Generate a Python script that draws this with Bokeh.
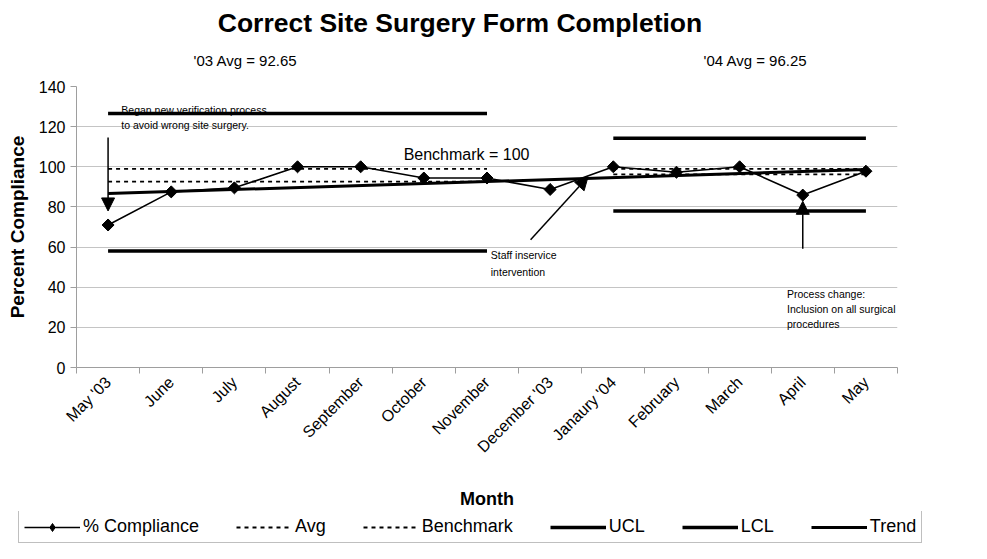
import math
from bokeh.plotting import figure
from bokeh.layouts import column
from bokeh.models import (Plot, Range1d, FixedTicker, Label, Arrow, NormalHead,
                          Legend, LegendItem)
from bokeh.embed import file_html
from bokeh.resources import INLINE

# ---------------- data ----------------
months = ["May '03", "June", "July", "August", "September", "October",
          "November", "December '03", "Janaury '04", "February", "March",
          "April", "May"]
compliance = [71, 87.5, 89.5, 100, 100, 94.4, 94.4, 88.7, 100, 97.3, 100, 85.9, 97.8]

span_03 = [0, 6]      # May '03 .. November (index range of the '03 control lines)
span_04 = [8, 12]     # Janaury '04 .. May
avg_03 = [92.65, 92.65]
avg_04 = [96.25, 96.25]
bench_03 = [99, 99]
bench_04 = [99, 99]
ucl_03 = [126.5, 126.5]
lcl_03 = [58.0, 58.0]
ucl_04 = [114.2, 114.2]
lcl_04 = [78.0, 78.0]
trend_x = [0, 12]
trend_y = [86.7, 98.6]
y_ticks = [0, 20, 40, 60, 80, 100, 120, 140]
legend_labels = ["% Compliance", "Avg", "Benchmark", "UCL", "LCL", "Trend"]

FONT = "Liberation Sans"
W = 971
HEAD_H = 78
MAIN_H = 433
LEG_H = 543 - HEAD_H - MAIN_H
FRAME_L, FRAME_R = 76, 897          # plot-area edges in page pixels

# can the header / legend strips opt out of frame alignment in the column?
HAS_FA = "frame_align" in Plot.properties()

x_idx = list(range(len(months)))

# styles (shared by the chart and its legend)
ST_COMP = dict(line_color="black", line_width=1.6)
ST_MARK = dict(marker="square", angle=math.pi / 4, size=8.5, fill_color="black", line_color="black")
ST_MARK_LEG = dict(marker="diamond", size=12, fill_color="black", line_color="black")
ST_DOT = dict(line_color="black", line_width=1.8, line_dash="4 4")
ST_CTRL = dict(line_color="black", line_width=3.5)
ST_TREND = dict(line_color="black", line_width=3)


def strip(height, yr, aligned_xr):
    extra = {"frame_align": False} if HAS_FA else {}
    xr = Range1d(0, W) if HAS_FA else aligned_xr
    f = figure(width=W, height=height, x_range=xr, y_range=yr, title=None,
               x_axis_type=None, y_axis_type=None,
               output_backend="svg", toolbar_location=None,
               min_border_left=0, min_border_right=0, min_border_top=0, min_border_bottom=0,
               **extra)
    f.grid.visible = False
    f.outline_line_color = None
    f.border_fill_color = "white"
    f.background_fill_color = "white"
    return f


# ---------------- header (title + period averages) ----------------
head = strip(HEAD_H, Range1d(0, HEAD_H), Range1d(FRAME_L, FRAME_R))


def hlab(x, y, text, size, bold=False):
    head.add_layout(Label(x=x, y=y, text=text, text_font=FONT, text_font_size=size,
                          text_color="black", text_font_style="bold" if bold else "normal",
                          text_align="center", text_baseline="middle"))


hlab(459.5, HEAD_H - 22.5, "Correct Site Surgery Form Completion", "26.5px", bold=True)
hlab(245, HEAD_H - 60, "'03 Avg = 92.65", "15px")
hlab(755, HEAD_H - 60, "'04 Avg = 96.25", "15px")

# ---------------- main chart ----------------
p = figure(width=W, height=MAIN_H, title=None,
           x_range=Range1d(-0.5, len(months) - 0.5), y_range=Range1d(0, 140),
           output_backend="svg", toolbar_location=None,
           min_border_left=FRAME_L, min_border_right=W - FRAME_R,
           min_border_top=8, min_border_bottom=MAIN_H - 8 - 284)
p.outline_line_color = None
p.background_fill_color = "white"
p.border_fill_color = "white"

p.line(x_idx, compliance, **ST_COMP)
p.scatter(x_idx, compliance, **ST_MARK)
p.line(span_03, avg_03, **ST_DOT)
p.line(span_04, avg_04, **ST_DOT)
p.line(span_03, bench_03, **ST_DOT)
p.line(span_04, bench_04, **ST_DOT)
p.line(span_03, ucl_03, **ST_CTRL)
p.line(span_04, ucl_04, **ST_CTRL)
p.line(span_03, lcl_03, **ST_CTRL)
p.line(span_04, lcl_04, **ST_CTRL)
p.line(trend_x, trend_y, **ST_TREND)

# axes
xa = p.xaxis[0]
xa.ticker = FixedTicker(ticks=x_idx, minor_ticks=[i - 0.5 for i in range(len(months) + 1)])
xa.major_label_overrides = {i: m for i, m in enumerate(months)}
xa.major_label_orientation = math.pi / 4
xa.major_tick_out = 0
xa.major_tick_in = 0
xa.minor_tick_out = 6
xa.minor_tick_in = 0
xa.minor_tick_line_color = "#9e9e9e"
xa.axis_line_color = "#9e9e9e"
xa.major_label_text_font = FONT
xa.major_label_text_font_size = "16px"
xa.major_label_text_color = "black"
xa.major_label_standoff = 6
xa.axis_label = "Month"
xa.axis_label_text_font = FONT
xa.axis_label_text_font_style = "bold"
xa.axis_label_text_font_size = "18px"
xa.axis_label_text_color = "black"
xa.axis_label_standoff = 24

ya = p.yaxis[0]
ya.ticker = FixedTicker(ticks=y_ticks)
ya.minor_tick_line_color = None
ya.major_tick_out = 6
ya.major_tick_in = 0
ya.major_tick_line_color = "#9e9e9e"
ya.axis_line_color = "#9e9e9e"
ya.major_label_text_font = FONT
ya.major_label_text_font_size = "16px"
ya.major_label_text_color = "black"
ya.major_label_standoff = 5
ya.axis_label = "Percent Compliance"
ya.axis_label_text_font = FONT
ya.axis_label_text_font_style = "bold"
ya.axis_label_text_font_size = "19px"
ya.axis_label_text_color = "black"
ya.axis_label_standoff = 8

p.xgrid.grid_line_color = None
p.ygrid.ticker = FixedTicker(ticks=y_ticks)
p.ygrid.grid_line_color = "#c4c4c4"
p.ygrid.grid_line_width = 1


def lab(x, y, text, size):
    p.add_layout(Label(x=x, y=y, text=text, text_font=FONT, text_font_size=size,
                       text_color="black", text_align="left", text_baseline="middle"))


lab(4.68, 106.0, "Benchmark = 100", "16px")
lab(0.21, 128.5, "Began new verification process", "10.5px")
lab(0.21, 120.8, "to avoid wrong site surgery.", "10.5px")
lab(6.06, 55.9, "Staff inservice", "10.5px")
lab(6.06, 47.8, "intervention", "10.5px")
lab(10.75, 36.5, "Process change:", "10.5px")
lab(10.75, 29.1, "Inclusion on all surgical", "10.5px")
lab(10.75, 21.7, "procedures", "10.5px")


def arrow(x0, y0, x1, y1):
    p.add_layout(Arrow(end=NormalHead(size=13, fill_color="black", line_color="black"),
                       x_start=x0, y_start=y0, x_end=x1, y_end=y1,
                       line_color="black", line_width=1.5))


arrow(0, 114.6, 0, 78.0)
arrow(6.69, 63.6, 7.6, 95.0)
arrow(11.0, 59.2, 11.0, 82.8)

# ---------------- legend strip ----------------
# the strip's view (0..1) lies outside the data, so only the legend is seen
leg = strip(LEG_H, Range1d(0, 1), Range1d(0, 1))
g_comp = [leg.line(x_idx, compliance, **ST_COMP), leg.scatter(x_idx, compliance, **ST_MARK_LEG)]
g_avg = [leg.line(span_03, avg_03, **ST_DOT)]
g_bm = [leg.line(span_03, bench_03, **ST_DOT)]
g_ucl = [leg.line(span_03, ucl_03, **ST_CTRL)]
g_lcl = [leg.line(span_03, lcl_03, **ST_CTRL)]
g_tr = [leg.line(trend_x, trend_y, **ST_TREND)]

legend = Legend(items=[LegendItem(label=t, renderers=r) for t, r in
                       zip(legend_labels, [g_comp, g_avg, g_bm, g_ucl, g_lcl, g_tr])],
                location=(18, 0) if HAS_FA else (0, 0), orientation="horizontal")
legend.label_text_font = FONT
legend.label_text_font_size = "18px"
legend.label_text_color = "black"
legend.glyph_width = 56
legend.glyph_height = 20
legend.label_standoff = 3
legend.spacing = 37 if HAS_FA else 18
legend.padding = 5
legend.margin = 0
legend.border_line_color = "#808080"
legend.border_line_width = 1
legend.background_fill_color = "white"
legend.background_fill_alpha = 1
leg.add_layout(legend)

layout = column(head, p, leg, spacing=0)
open("out.html", "w").write(file_html(layout, INLINE))
